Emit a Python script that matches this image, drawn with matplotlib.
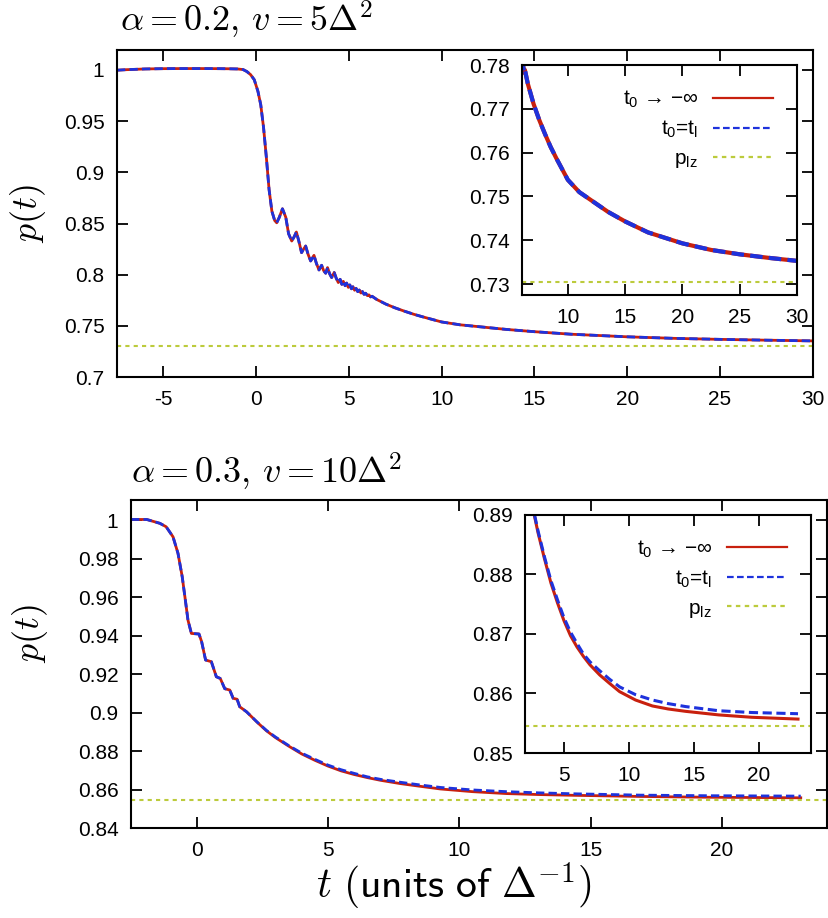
import numpy as np
import matplotlib
matplotlib.use("Agg")
import matplotlib.pyplot as plt

plt.rcParams["font.family"] = ["Liberation Sans", "DejaVu Sans"]
plt.rcParams["mathtext.fontset"] = "cm"
plt.rcParams["axes.unicode_minus"] = False

# ---- data ----
# upper panel: alpha = 0.2, v = 5 Delta^2 (both curves coincide)
t1 = [-7.5, -7.0, -6.0, -5.0, -4.0, -3.0, -2.0, -1.5, -1.0, -0.7, -0.5, -0.3, -0.1,
      0.1, 0.25, 0.4, 0.55, 0.7, 0.85, 1.0, 1.11, 1.25, 1.42, 1.6, 1.75, 1.92,
      2.05, 2.17, 2.3, 2.45, 2.56, 2.67, 2.8, 2.94, 3.03, 3.12, 3.25, 3.39,
      3.46, 3.53, 3.64, 3.75, 3.85, 3.96, 4.07, 4.21, 4.32, 4.43, 4.53,
      4.62, 4.70, 4.80, 4.88, 4.97, 5.05, 5.14, 5.22, 5.31, 5.39, 5.48, 5.56,
      5.65, 5.73, 5.82, 5.90, 6.0, 6.08, 6.17, 6.25, 6.5, 7.0, 7.5, 8.0, 8.5,
      9.0, 10.0, 11.0, 12.0, 13.5, 15.0, 17.0, 20.0, 22.5, 25.0, 27.5, 30.0]
p1 = [0.9998, 1.0003, 1.0010, 1.0013, 1.0014, 1.0014, 1.0013, 1.0012, 1.0010, 1.0004,
      0.9985, 0.9955, 0.9905,
      0.9790, 0.9660, 0.9440, 0.9150, 0.8830, 0.8620, 0.8530, 0.8507, 0.8560, 0.8644,
      0.8560, 0.8400, 0.8329, 0.8370, 0.8417, 0.8330, 0.8215, 0.8250, 0.8280,
      0.8200, 0.8134, 0.8160, 0.8189, 0.8110, 0.8046, 0.8070, 0.8092, 0.8040,
      0.8014, 0.8069, 0.8010, 0.7972, 0.8021, 0.7965, 0.7923, 0.7955,
      0.7905, 0.7935, 0.7892, 0.7918, 0.7876, 0.7900, 0.7862, 0.7882, 0.7848,
      0.7866, 0.7834, 0.7850, 0.7821, 0.7835, 0.7808, 0.7819, 0.7795, 0.7803,
      0.7783, 0.7789, 0.7758, 0.7712, 0.7675, 0.7643, 0.7613,
      0.7587, 0.7538, 0.7510, 0.7492, 0.7465, 0.7443, 0.7418, 0.7393, 0.7378,
      0.7368, 0.7360, 0.7353]
plz1 = 0.7305

# lower panel: alpha = 0.3, v = 10 Delta^2
t2 = [-2.5, -1.9, -1.4, -1.16, -0.9, -0.71, -0.55, -0.43, -0.33, -0.2, 0.09,
      0.19, 0.34, 0.56, 0.75, 0.9, 1.07, 1.26, 1.39, 1.54, 1.64, 1.9, 2.3,
      2.66, 3.0, 3.5, 4.0, 4.5, 5.0, 5.5, 6.0, 6.5, 7.0, 7.75, 8.5, 9.28,
      10.5, 11.8, 13.0, 14.35, 16.9, 19.45, 23.0]
p2_red = [1.0003, 1.0003, 0.9983, 0.9965, 0.9913, 0.9827, 0.9706, 0.9584,
          0.9480, 0.9411, 0.9408, 0.9368, 0.9273, 0.9264, 0.9186, 0.9177,
          0.9124, 0.9117, 0.9074, 0.9069, 0.9030, 0.9004, 0.8950,
          0.8905, 0.8870, 0.8826, 0.8785, 0.8752, 0.8722, 0.8697, 0.8678,
          0.8662, 0.8648, 0.8631, 0.8617, 0.8603, 0.8589, 0.8579, 0.8574,
          0.8570, 0.8564, 0.8560, 0.8557]
p2_blue = [1.0003, 1.0003, 0.9983, 0.9965, 0.9913, 0.9827, 0.9706, 0.9584,
           0.9480, 0.9411, 0.9408, 0.9368, 0.9273, 0.9264, 0.9186, 0.9177,
           0.9124, 0.9117, 0.9074, 0.9069, 0.9030, 0.9004, 0.8951,
           0.8907, 0.8873, 0.8829, 0.8789, 0.8757, 0.8727, 0.8703, 0.8684,
           0.8666, 0.8653, 0.8638, 0.8624, 0.8611, 0.8598, 0.8589, 0.8583,
           0.8578, 0.8571, 0.8568, 0.8566]
plz2 = 0.8545

labels = [r"$\mathregular{t_0}$ → −∞",
          r"$\mathregular{t_0}$=$\mathregular{t_l}$",
          r"$\mathregular{p_{lz}}$"]

# tick positions / labels
xt1 = [-5, 0, 5, 10, 15, 20, 25, 30]
yt1 = [0.7, 0.75, 0.8, 0.85, 0.9, 0.95, 1.0]
xt1_in = [10, 15, 20, 25, 30]
yt1_in = [0.73, 0.74, 0.75, 0.76, 0.77, 0.78]
xt2 = [0, 5, 10, 15, 20]
yt2 = [0.84, 0.86, 0.88, 0.9, 0.92, 0.94, 0.96, 0.98, 1.0]
xt2_in = [5, 10, 15, 20]
yt2_in = [0.85, 0.86, 0.87, 0.88, 0.89]

RED = "#c8200e"
BLUE = "#1e32dc"
OLIVE = "#bccb3c"


def style(ax, xt, yt):
    ax.set_xticks(xt)
    ax.set_yticks(yt)
    ax.set_xticklabels(["%g" % v for v in xt])
    ax.set_yticklabels(["%g" % v for v in yt])
    ax.tick_params(direction="in", top=True, right=True, length=8, width=1.3,
                   labelsize=15, pad=9)
    for s in ax.spines.values():
        s.set_linewidth(1.5)


def draw(ax, t, pr, pb, plz, lw):
    l1, = ax.plot(t, pr, color=RED, lw=lw, solid_joinstyle="round")
    l2, = ax.plot(t, pb, color=BLUE, lw=lw, linestyle=(0, (3, 1.5)))
    l3 = ax.axhline(plz, color=OLIVE, lw=1.5, linestyle=(0, (2, 2)))
    return [l1, l2, l3]


def add_legend(ax, hs):
    leg = ax.legend(hs, labels, loc="upper right", frameon=False, markerfirst=False,
                    fontsize=15, handlelength=2.9, labelspacing=0.42,
                    handletextpad=0.7, borderaxespad=0.75)
    for ln in leg.get_lines():
        ln.set_linewidth(1.6)
    return leg


fig = plt.figure(figsize=(8.29, 9.18), dpi=100)

# ---- upper panel ----
ax1 = fig.add_axes([0.1411, 0.5893, 0.8392, 0.3562])
draw(ax1, t1, p1, p1, plz1, 2.0)
ax1.set_xlim(-7.5, 30)
ax1.set_ylim(0.7, 1.0195)
style(ax1, xt1, yt1)
ax1.text(0.004, 1.028, r"$\alpha=0.2,\,v=5\Delta^2$", transform=ax1.transAxes,
         fontsize=26, ha="left", va="bottom")

ax1i = fig.add_axes([0.6297, 0.6786, 0.3317, 0.2505])
hs = draw(ax1i, t1, p1, p1, plz1, 3.0)
ax1i.set_xlim(6, 30)
ax1i.set_ylim(0.7275, 0.78)
style(ax1i, xt1_in, yt1_in)
add_legend(ax1i, hs)

# ---- lower panel ----
ax2 = fig.add_axes([0.1580, 0.0980, 0.8396, 0.3573])
draw(ax2, t2, p2_red, p2_blue, plz2, 2.0)
ax2.set_xlim(-2.5, 24)
ax2.set_ylim(0.84, 1.0104)
style(ax2, xt2, yt2)
ax2.text(0.0, 1.022, r"$\alpha=0.3,\,v=10\Delta^2$", transform=ax2.transAxes,
         fontsize=26, ha="left", va="bottom")

ax2i = fig.add_axes([0.6333, 0.1797, 0.3450, 0.2596])
hs = draw(ax2i, t2, p2_red, p2_blue, plz2, 2.2)
ax2i.set_xlim(2, 24)
ax2i.set_ylim(0.85, 0.89)
style(ax2i, xt2_in, yt2_in)
add_legend(ax2i, hs)

# axis labels
fig.text(0.034, 1 - 214 / 918, r"$p(t)$", rotation=90, fontsize=26,
         ha="center", va="center")
fig.text(0.036, 1 - 634 / 918, r"$p(t)$", rotation=90, fontsize=26,
         ha="center", va="center")
fig.text(454 / 829, 1 - 886 / 918, r"$t\ \mathsf{(units\ of\ }\Delta^{-1}\mathsf{)}$",
         fontsize=30, ha="center", va="center")

fig.savefig("out.png", dpi=100)
